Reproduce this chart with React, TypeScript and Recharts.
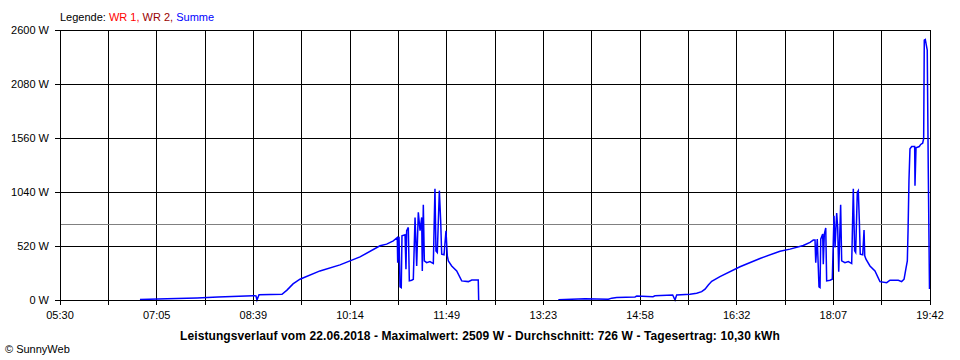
import React from "react";
import {
  LineChart,
  Line,
  XAxis,
  YAxis,
  CartesianGrid,
  ReferenceLine,
} from "recharts";

// time axis: minutes since midnight, 05:30 .. 19:42
const START_MIN = 330;
const END_MIN = 1182;

const timeLabels = [
  "05:30",
  "07:05",
  "08:39",
  "10:14",
  "11:49",
  "13:23",
  "14:58",
  "16:32",
  "18:07",
  "19:42",
];

const wattTicks = [0, 520, 1040, 1560, 2080, 2600];

const AVERAGE_W = 726;

// morning block (minutes / watts)
const morningTimes = [
  408.3, 434.8, 464.2, 484.7, 519.0, 521.9, 522.9, 524.9, 547.4, 552.3, 558.2,
  565.0, 584.6, 604.2, 623.8, 643.4, 649.9, 656.4, 660.3, 660.7, 662.0, 663.0,
  664.2, 664.9, 667.9, 668.8, 669.5, 671.1, 672.1, 674.4, 676.0, 677.7, 679.3,
  680.9, 682.6, 684.2, 684.8, 685.8, 686.8, 689.1, 692.3, 695.6, 697.2, 698.2,
  699.5, 701.5, 702.8, 703.8, 706.1, 708.0, 709.3, 710.3, 713.6, 718.5, 723.4,
  729.9, 733.2, 739.6, 740.0,
];
const morningWatts = [
  5, 12, 20, 30, 42, 40, 0, 50, 55, 95, 155, 200, 280, 338, 415, 522, 538, 570,
  602, 360, 609, 126, 119, 618, 628, 297, 667, 699, 184, 190, 200, 795, 328,
  844, 667, 795, 280, 918, 377, 360, 370, 351, 1070, 473, 457, 1053, 763, 441,
  435, 667, 425, 377, 328, 280, 184, 177, 193, 193, 0,
];

// afternoon block
const afternoonTimes = [
  818.0, 844.1, 867.0, 870.3, 875.2, 893.1, 894.8, 910.7, 912.7, 930.0, 932.3,
  933.9, 947.0, 953.5, 958.4, 961.7, 964.9, 968.2, 976.3, 995.9, 1015.5,
  1035.1, 1044.9, 1057.9, 1064.5, 1067.7, 1069.4, 1070.1, 1071.6, 1073.3,
  1074.3, 1075.0, 1076.9, 1077.5, 1078.5, 1079.9, 1080.8, 1084.1, 1086.3,
  1088.0, 1089.0, 1090.6, 1091.6, 1092.6, 1094.5, 1095.5, 1098.7, 1102.0,
  1105.3, 1106.9, 1108.2, 1109.2, 1110.8, 1111.8, 1112.8, 1113.7, 1116.1,
  1117.4, 1118.1, 1119.3, 1123.2, 1128.1, 1133.0, 1139.6, 1142.8, 1151.0,
  1154.2, 1156.6, 1158.5, 1159.8, 1160.5, 1161.4, 1162.4, 1164.1, 1165.6,
  1167.0, 1167.3, 1168.3, 1171.5, 1172.9, 1174.8, 1175.8, 1176.4, 1177.4,
  1178.4, 1179.3, 1180.3, 1181.5,
];
const afternoonWatts = [
  3, 12, 8, 18, 24, 30, 38, 32, 40, 48, 0, 48, 55, 65, 80, 105, 145, 180, 225,
  320, 400, 470, 490, 525, 555, 577, 577, 360, 586, 126, 119, 586, 635, 345,
  635, 693, 184, 190, 200, 812, 505, 838, 699, 273, 918, 377, 360, 370, 351,
  1070, 473, 457, 1037, 1053, 763, 441, 435, 673, 425, 393, 328, 280, 177, 167,
  190, 190, 177, 200, 306, 377, 667, 1150, 1456, 1478, 1478, 1478, 1100, 1466,
  1478, 1498, 1510, 1553, 2502, 2509, 2454, 2406, 1263, 106,
];

type Point = { t: number; w: number | null };

const data: Point[] = [
  ...morningTimes.map((t, i) => ({ t, w: morningWatts[i] })),
  { t: 741, w: null },
  ...afternoonTimes.map((t, i) => ({ t, w: afternoonWatts[i] })),
];

// one gridline every half label step
const STEPS = (timeLabels.length - 1) * 2;
const timeTicks = Array.from(
  { length: STEPS + 1 },
  (_, i) => START_MIN + ((END_MIN - START_MIN) * i) / STEPS
);

const FONT = "'Liberation Sans', Arial, sans-serif";

const App: React.FC = () => {
  return (
    <div
      style={{
        position: "absolute",
        left: 0,
        top: 0,
        width: 960,
        height: 360,
        background: "#fff",
        fontFamily: FONT,
        color: "#000",
      }}
    >
      <style>{`
        .recharts-cartesian-grid line,
        .recharts-cartesian-axis-line,
        .recharts-cartesian-axis-tick-line,
        .recharts-reference-line-line { shape-rendering: crispEdges; }
      `}</style>
      <div
        style={{
          position: "absolute",
          left: 60,
          top: 10,
          fontSize: 11,
          lineHeight: "14px",
          whiteSpace: "nowrap",
        }}
      >
        Legende: <span style={{ color: "#ff0000" }}>WR 1,</span>{" "}
        <span style={{ color: "#990000" }}>WR 2,</span>{" "}
        <span style={{ color: "#0000ff" }}>Summe</span>
      </div>

      <LineChart
        width={960}
        height={360}
        data={data}
        margin={{ top: 30, right: 30, bottom: 40, left: 8 }}
      >
        <CartesianGrid stroke="#000" strokeWidth={1} />
        <XAxis
          dataKey="t"
          type="number"
          domain={[START_MIN, END_MIN]}
          ticks={timeTicks}
          interval={0}
          allowDataOverflow
          height={20}
          tickSize={5}
          tickMargin={6}
          stroke="#000"
          tick={{ fill: "#000", fontSize: 11 }}
          tickFormatter={(_v: number, i: number) =>
            i % 2 === 0 ? timeLabels[i / 2] : ""
          }
        />
        <YAxis
          type="number"
          domain={[0, 2600]}
          ticks={wattTicks}
          interval={0}
          width={52}
          tickSize={5}
          tickMargin={6}
          stroke="#000"
          tick={{ fill: "#000", fontSize: 11 }}
          tickFormatter={(v: number) => `${v} W`}
        />
        <ReferenceLine y={AVERAGE_W} stroke="#808080" strokeWidth={1} />
        <Line
          type="linear"
          dataKey="w"
          stroke="#0000ff"
          strokeWidth={1.5}
          dot={false}
          connectNulls={false}
          isAnimationActive={false}
        />
      </LineChart>

      <div
        style={{
          position: "absolute",
          left: 0,
          top: 329,
          width: 960,
          textAlign: "center",
          fontSize: 12,
          fontWeight: "bold",
          letterSpacing: 0.1,
          lineHeight: "14px",
          whiteSpace: "nowrap",
        }}
      >
        Leistungsverlauf vom 22.06.2018 - Maximalwert: 2509 W - Durchschnitt: 726
        W - Tagesertrag: 10,30 kWh
      </div>
      <div
        style={{
          position: "absolute",
          left: 5,
          top: 342,
          fontSize: 11,
          lineHeight: "14px",
          whiteSpace: "nowrap",
        }}
      >
        © SunnyWeb
      </div>
    </div>
  );
};

export default App;
